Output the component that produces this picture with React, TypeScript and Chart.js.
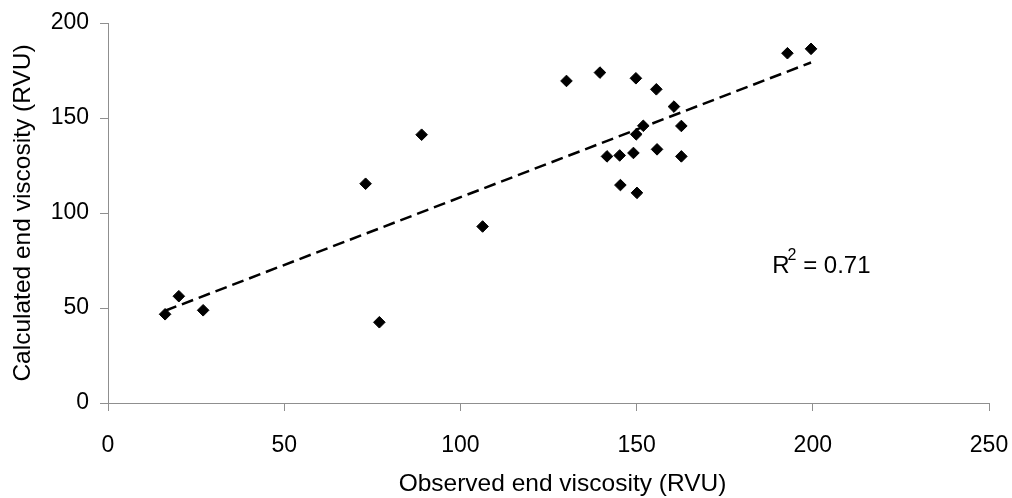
import React, { useEffect, useRef } from "react";
import { Chart, registerables } from "chart.js";

Chart.register(...registerables);

const FONT = '"Liberation Sans", Arial, Helvetica, sans-serif';

// Observed end viscosity (RVU)
const observed = [
  16.2, 20.1, 27.0, 73.1, 77.0, 89.0, 106.3,
  130.1, 139.6, 149.8, 155.6, 160.6, 162.7, 151.9, 149.9,
  141.6, 145.2, 149.1, 155.8, 162.7, 145.4, 150.1, 192.8, 199.5,
];
// Calculated end viscosity (RVU)
const calculated = [
  46.7, 56.2, 48.8, 115.4, 42.5, 141.2, 92.9,
  169.5, 173.9, 170.9, 165.1, 156.0, 145.8, 145.9, 141.4,
  129.8, 130.3, 131.6, 133.5, 129.8, 114.7, 110.6, 184.1, 186.4,
];

const xAxisTitle = "Observed end viscosity (RVU)";
const yAxisTitle = "Calculated end viscosity (RVU)";
const r2Label = "0.71";
const r2Anchor = [188.5, 68.2]; // data coords of annotation baseline start

function linearFit(xs: number[], ys: number[]) {
  const n = xs.length;
  const mx = xs.reduce((a, b) => a + b, 0) / n;
  const my = ys.reduce((a, b) => a + b, 0) / n;
  let sxy = 0;
  let sxx = 0;
  for (let i = 0; i < n; i++) {
    sxy += (xs[i] - mx) * (ys[i] - my);
    sxx += (xs[i] - mx) * (xs[i] - mx);
  }
  const slope = sxy / sxx;
  return { slope, intercept: my - slope * mx };
}

const textPlugin = {
  id: "textlabels",
  afterDraw(chart: any) {
    const { ctx, scales, chartArea } = chart;
    ctx.save();
    ctx.fillStyle = "#000";
    // R^2 annotation
    const px = scales.x.getPixelForValue(r2Anchor[0]);
    const py = scales.y.getPixelForValue(r2Anchor[1]);
    ctx.textBaseline = "alphabetic";
    ctx.textAlign = "left";
    ctx.font = `24px ${FONT}`;
    ctx.fillText("R", px, py);
    const wR = ctx.measureText("R").width;
    ctx.font = `16px ${FONT}`;
    ctx.fillText("2", px + wR - 2, py - 13);
    const w2 = ctx.measureText("2").width;
    ctx.font = `24px ${FONT}`;
    ctx.fillText(" = " + r2Label, px + wR - 2 + w2, py);
    // x axis title (slightly right of the plot centre, as in the source)
    ctx.textAlign = "center";
    ctx.textBaseline = "middle";
    ctx.font = `24.5px ${FONT}`;
    const cx = (chartArea.left + chartArea.right) / 2 + 14;
    ctx.fillText(xAxisTitle, cx, chart.height - 14);
    // y axis title
    ctx.translate(23, (chartArea.top + chartArea.bottom) / 2);
    ctx.rotate(-Math.PI / 2);
    ctx.fillText(yAxisTitle, 0, 0);
    ctx.restore();
  },
};

export default function App() {
  const ref = useRef<HTMLCanvasElement | null>(null);

  useEffect(() => {
    if (!ref.current) return;
    const points = observed.map((x, i) => ({ x, y: calculated[i] }));
    const { slope, intercept } = linearFit(observed, calculated);
    const xmin = Math.min(...observed);
    const xmax = Math.max(...observed);
    const trend = [
      { x: xmin, y: intercept + slope * xmin },
      { x: xmax, y: intercept + slope * xmax },
    ];
    const axisColor = "#8f8f8f";
    const chart = new Chart(ref.current, {
      type: "scatter",
      data: {
        datasets: [
          {
            label: "trend",
            data: trend,
            showLine: true,
            borderColor: "#000",
            borderWidth: 2.5,
            borderDash: [12, 6],
            pointRadius: 0,
            fill: false,
          } as any,
          {
            label: "data",
            data: points,
            pointStyle: "rectRot",
            pointRadius: 5.8,
            backgroundColor: "#000",
            borderColor: "#000",
            borderWidth: 1,
          },
        ],
      },
      options: {
        animation: false,
        responsive: false,
        maintainAspectRatio: false,
        layout: { padding: { top: 23, right: 23, left: 0, bottom: 0 } },
        plugins: {
          legend: { display: false },
          tooltip: { enabled: false },
        },
        scales: {
          x: {
            type: "linear",
            min: 0,
            max: 250,
            ticks: {
              stepSize: 50,
              color: "#000",
              padding: 21,
              font: { family: FONT, size: 23 },
            },
            grid: {
              drawOnChartArea: false,
              drawTicks: true,
              tickLength: 8,
              color: axisColor,
            },
            border: { color: axisColor, width: 1 },
            title: { display: false },
            afterFit(scale: any) {
              scale.height = 95;
              scale.paddingRight = 0;
              scale.paddingLeft = 0;
            },
          },
          y: {
            type: "linear",
            min: 0,
            max: 200,
            ticks: {
              stepSize: 50,
              color: "#000",
              padding: 11,
              font: { family: FONT, size: 23 },
            },
            grid: {
              drawOnChartArea: false,
              drawTicks: true,
              tickLength: 8,
              color: axisColor,
            },
            border: { color: axisColor, width: 1 },
            title: { display: false },
            afterFit(scale: any) {
              scale.width = 108;
              scale.paddingTop = 0;
              scale.paddingBottom = 0;
            },
          },
        },
      },
      plugins: [textPlugin],
    });
    return () => chart.destroy();
  }, []);

  return (
    <div style={{ position: "absolute", left: 0, top: 0, width: 1012, height: 498, background: "#fff" }}>
      <canvas ref={ref} width={1012} height={498} style={{ display: "block" }} />
    </div>
  );
}
